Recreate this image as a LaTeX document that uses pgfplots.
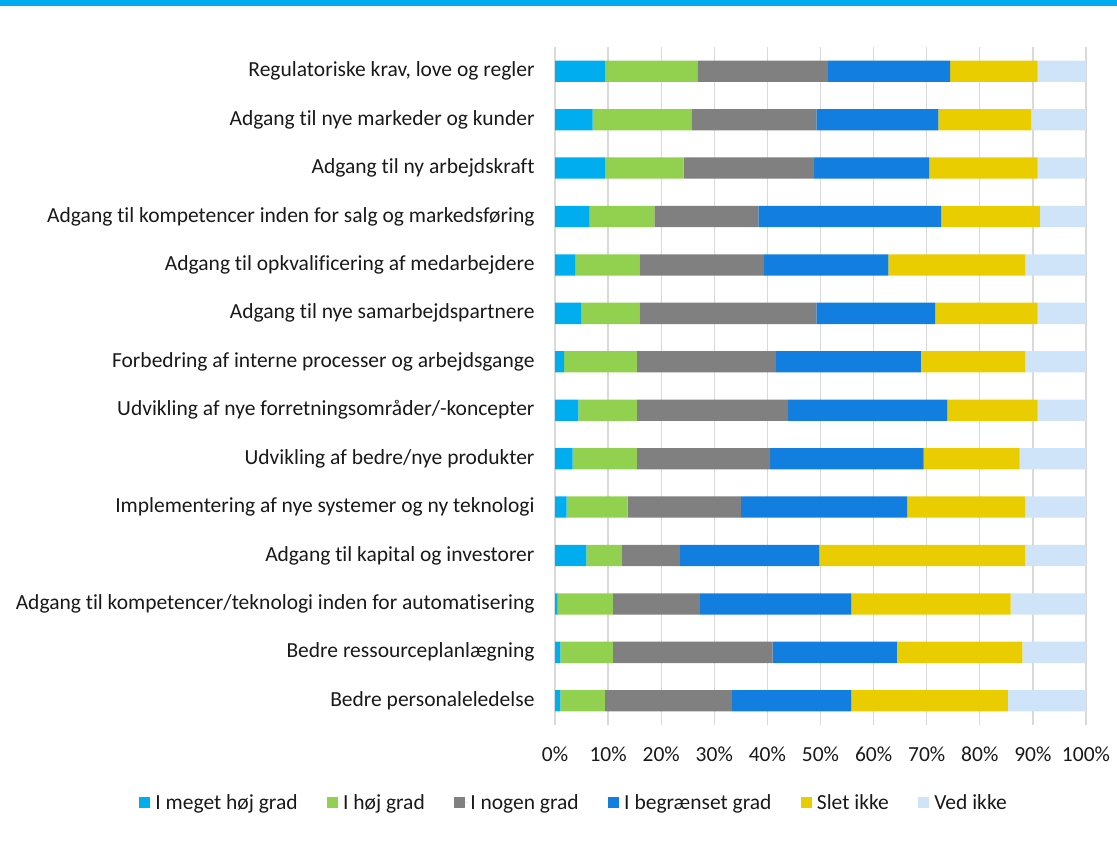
\documentclass[border=0pt]{standalone}
\usepackage{pgfplots}
\pgfplotsset{compat=1.18}
\usepackage{pgfplotstable}
\usepackage{fontspec}
\setmainfont[Ligatures=NoCommon]{Carlito}
\definecolor{cA}{HTML}{00ADEF}
\definecolor{cB}{HTML}{92D050}
\definecolor{cC}{HTML}{808080}
\definecolor{cD}{HTML}{127FE0}
\definecolor{cE}{HTML}{EACD00}
\definecolor{cF}{HTML}{CFE4F8}
\definecolor{gridc}{HTML}{D9D9D9}
\pgfplotsset{sqleg/.style={legend image code/.code={\fill[##1] (0bp,-5.5bp) rectangle (11bp,5.5bp); \path (0bp,0bp) -- (14bp,0bp);}}}
\pgfplotstableread{
y a b c d e f
0 9.4 17.4 24.6 23.0 16.5 9.1
1 7.1 18.6 23.5 23.0 17.5 10.3
2 9.4 14.8 24.6 21.7 20.4 9.1
3 6.5 12.2 19.6 34.4 18.6 8.7
4 3.8 12.1 23.5 23.4 25.8 11.4
5 4.9 11.0 33.3 22.4 19.3 9.1
6 1.7 13.7 26.2 27.3 19.7 11.4
7 4.4 11.0 28.5 30.0 17.0 9.1
8 3.3 12.1 25.1 28.9 18.1 12.5
9 2.2 11.5 21.3 31.3 22.3 11.4
10 5.9 6.7 10.9 26.3 38.8 11.4
11 0.5 10.4 16.4 28.5 30.0 14.2
12 1.0 9.9 30.1 23.4 23.6 12.0
13 1.0 8.4 23.9 22.5 29.5 14.7
}\data
\begin{document}
\begin{tikzpicture}
\path (0bp,0bp) rectangle (1117bp,-851bp);
\fill[cA] (0bp,0bp) rectangle (1117bp,-6bp);
\begin{axis}[
  at={(820.5bp,-386bp)}, anchor=center,
  scale only axis, width=531bp, height=678bp,
  xmin=0, xmax=100, ymin=-0.5, ymax=13.5, y dir=reverse,
  xbar stacked, bar width=21.3bp,
  xtick={0,10,...,100},
  xticklabels={0\%,10\%,20\%,30\%,40\%,50\%,60\%,70\%,80\%,90\%,100\%},
  ytick={0,...,13},
  yticklabels={{Regulatoriske krav, love og regler},{Adgang til nye markeder og kunder},{Adgang til ny arbejdskraft},{Adgang til kompetencer inden for salg og markedsføring},{Adgang til opkvalificering af medarbejdere},{Adgang til nye samarbejdspartnere},{Forbedring af interne processer og arbejdsgange},{Udvikling af nye forretningsområder/-koncepter},{Udvikling af bedre/nye produkter},{Implementering af nye systemer og ny teknologi},{Adgang til kapital og investorer},{Adgang til kompetencer/teknologi inden for automatisering},{Bedre ressourceplanlægning},{Bedre personaleledelse}},
  tick style={draw=none},
  xmajorgrids, ymajorgrids=false,
  grid style={gridc, line width=1.3bp},
  axis line style={draw=none},
  tick label style={font=\fontsize{21.5bp}{25bp}\selectfont, text=black!90},
  yticklabel style={xshift=-17bp},
  xticklabel style={yshift=-18bp},
  legend style={at={(0.036,-0.115)}, anchor=center, draw=none, fill=none,
    legend columns=6, font=\fontsize{21.5bp}{25bp}\selectfont, text=black!90,
    /tikz/every even column/.append style={column sep=27.5bp}},
  legend cell align=left,
]
\addplot[draw=none, fill=cA, sqleg] table[x=a, y=y] {\data};
\addplot[draw=none, fill=cB, sqleg] table[x=b, y=y] {\data};
\addplot[draw=none, fill=cC, sqleg] table[x=c, y=y] {\data};
\addplot[draw=none, fill=cD, sqleg] table[x=d, y=y] {\data};
\addplot[draw=none, fill=cE, sqleg] table[x=e, y=y] {\data};
\addplot[draw=none, fill=cF, sqleg] table[x=f, y=y] {\data};
\legend{I meget høj grad, I høj grad, I nogen grad, I begrænset grad, Slet ikke, Ved ikke}
\end{axis}
\end{tikzpicture}
\end{document}
